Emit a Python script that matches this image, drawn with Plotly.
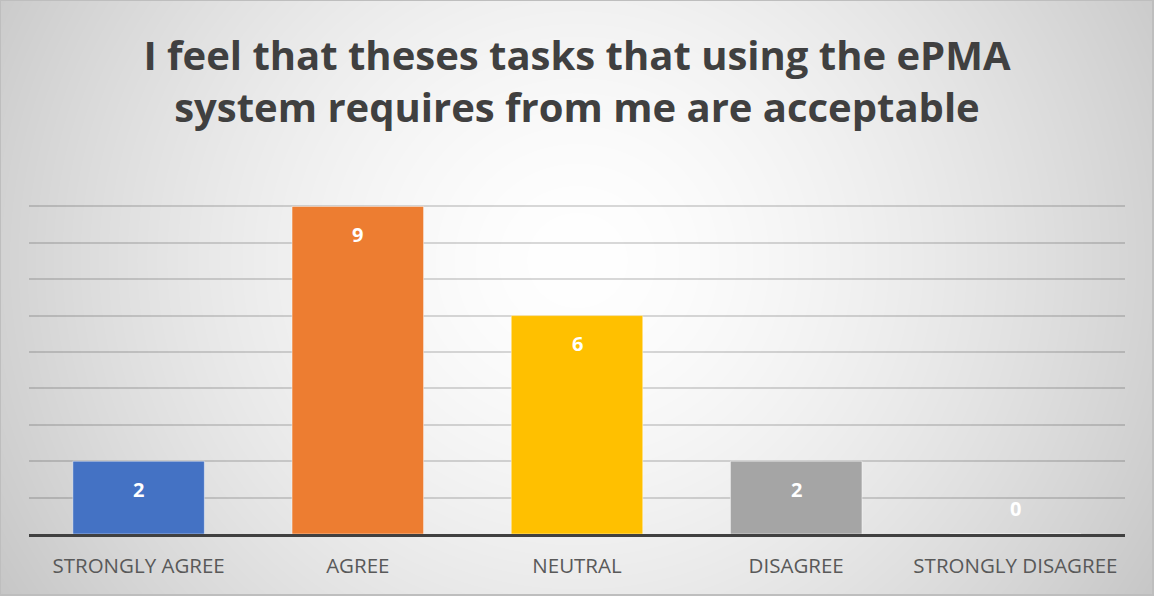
import base64
import struct
import zlib

import numpy as np
import plotly.graph_objects as go

# Survey responses
categories = ["STRONGLY AGREE", "AGREE", "NEUTRAL", "DISAGREE", "STRONGLY DISAGREE"]
counts = [2, 9, 6, 2, 0]
bar_colors = ["#4472C4", "#ED7D31", "#FFC000", "#A5A5A5", "#5B9BD5"]
title_text = "I feel that theses tasks that using the ePMA<br>system requires from me are acceptable"

W, H = 1154, 596
M_L, M_R, M_T, M_B = 29, 29, 170, 62
PW, PH = W - M_L - M_R, H - M_T - M_B


def radial_background(w, h):
    """Grey-to-white radial gradient as a PNG data URI, with a thin frame."""
    yy, xx = np.mgrid[0:h, 0:w].astype(float)
    d = np.sqrt(((xx - 577) / 600.0) ** 2 + ((yy - 260) / 570.0) ** 2)
    g = 255 - 46.9 * np.power(d, 1.55)
    g = np.clip(g, 190, 255)
    g[0, :] = 190
    g[-2:, :] = 190
    g[:, 0] = 190
    g[:, -2:] = 190
    img = g.astype(np.uint8)
    raw = b"".join(b"\x00" + img[r].tobytes() for r in range(h))

    def chunk(tag, data):
        c = struct.pack(">I", len(data)) + tag + data
        return c + struct.pack(">I", zlib.crc32(tag + data) & 0xFFFFFFFF)

    png = b"\x89PNG\r\n\x1a\n"
    png += chunk(b"IHDR", struct.pack(">IIBBBBB", w, h, 8, 0, 0, 0, 0))
    png += chunk(b"IDAT", zlib.compress(raw, 9))
    png += chunk(b"IEND", b"")
    return "data:image/png;base64," + base64.b64encode(png).decode()


fig = go.Figure(
    go.Bar(
        x=categories,
        y=counts,
        marker=dict(color=bar_colors[: len(counts)],
                    line=dict(color="rgba(255,255,255,0.45)", width=1)),
        hoverinfo="skip",
    )
)

# value labels just inside the top of each bar (above the axis when zero)
for cat, v in zip(categories, counts):
    fig.add_annotation(
        x=cat, y=v, text=f"<b>{v}</b>", showarrow=False,
        yanchor="middle", yshift=-28 if v > 0 else 26,
        font=dict(family="Open Sans", size=20, color="white"),
    )

fig.update_layout(
    width=W, height=H,
    margin=dict(l=M_L, r=M_R, t=M_T, b=M_B),
    paper_bgcolor="white",
    plot_bgcolor="rgba(0,0,0,0)",
    bargap=0.4,
    showlegend=False,
    title=dict(
        text=f"<b>{title_text}</b>",
        x=0.5, xanchor="center",
        y=1 - 70 / H, yanchor="middle", yref="container",
        font=dict(family="Open Sans", size=40, color="#404040"),
    ),
    xaxis=dict(
        showline=True, linecolor="#404040", linewidth=3,
        showgrid=False, ticks="",
        tickfont=dict(family="Open Sans", size=20.5, color="#595959"),
        ticklabelstandoff=11,
    ),
    yaxis=dict(
        range=[0, 10], dtick=1, showticklabels=False,
        showgrid=True, gridcolor="rgba(0,0,0,0.15)", gridwidth=2,
        zeroline=False, showline=False,
    ),
    images=[dict(
        source=radial_background(W, H),
        xref="paper", yref="paper",
        x=-M_L / PW, y=1 + M_T / PH,
        sizex=W / PW, sizey=H / PH,
        xanchor="left", yanchor="top",
        sizing="stretch", layer="below",
    )],
)

fig.write_html("out.html")
